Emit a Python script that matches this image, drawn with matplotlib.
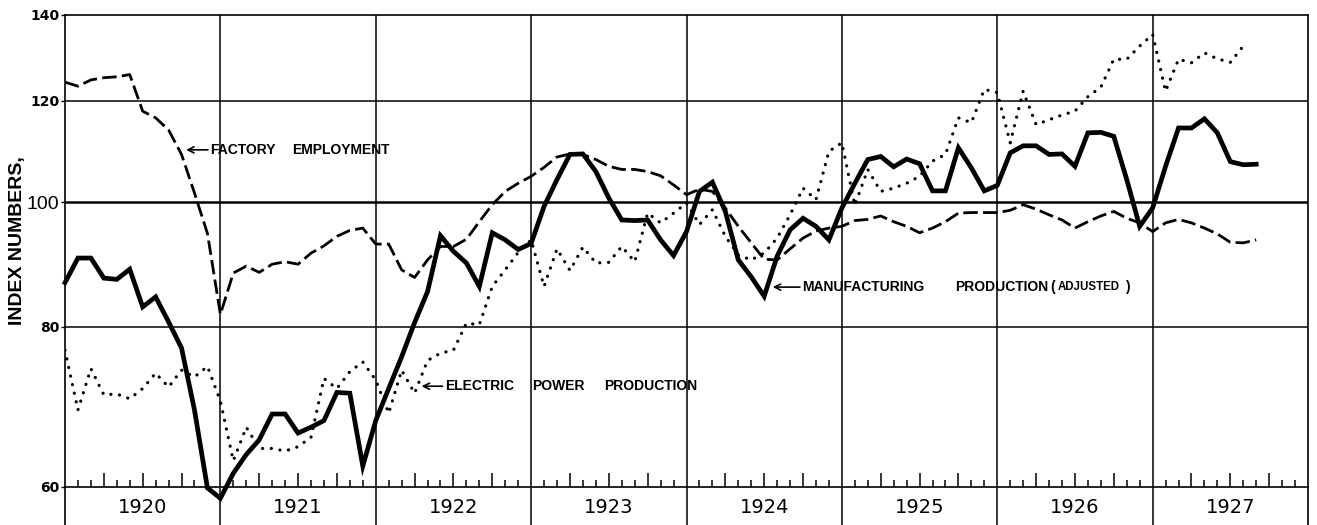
import numpy as np
import matplotlib
matplotlib.use("Agg")
import matplotlib.pyplot as plt
from matplotlib.ticker import NullLocator, FixedLocator

# ---- data (monthly index numbers, Jan 1920 onward) ----
start_year = 1920
years = [1920, 1921, 1922, 1923, 1924, 1925, 1926, 1927]
y_ticks = [60, 80, 100, 120, 140]
y_tick_labels = ["60", "80", "100", "120", "140"]

manufacturing = [
    86.6, 90.5, 90.5, 87.3, 87.1, 88.7, 82.9, 84.4, 80.7, 77.0, 68.9, 59.9,   # 1920
    58.8, 61.5, 63.6, 65.3, 68.4, 68.4, 66.1, 66.8, 67.6, 71.1, 71.0, 62.3,   # 1921
    67.6, 71.6, 75.8, 80.6, 85.2, 94.2, 91.6, 89.7, 86.0, 94.7, 93.5, 91.9,   # 1922
    92.9, 99.3, 104.2, 109.0, 109.1, 105.7, 100.8, 96.9, 96.8, 96.9, 93.5, 90.9,  # 1923
    94.9, 102.0, 103.7, 98.4, 90.2, 87.5, 84.5, 90.8, 95.2, 97.2, 95.8, 93.5,   # 1924
    99.0, 103.5, 108.0, 108.6, 106.6, 108.1, 107.2, 102.1, 102.1, 110.3, 106.4, 102.1,  # 1925
    103.1, 109.3, 110.7, 110.7, 109.0, 109.1, 106.7, 113.3, 113.4, 112.6, 104.2, 95.8,  # 1926
    99.0, 106.7, 114.3, 114.3, 116.2, 113.3, 107.6, 107.0, 107.1,            # 1927
]

factory_employment = [
    124.1, 123.2, 124.6, 125.1, 125.3, 125.8, 117.8, 116.4, 113.9, 109.0, 101.7, 94.6,  # 1920
    81.8, 88.1, 89.2, 88.2, 89.5, 89.9, 89.5, 91.3, 92.5, 94.1, 95.1, 95.5,   # 1921
    92.8, 92.8, 88.6, 87.4, 90.2, 92.4, 92.4, 93.6, 96.6, 99.6, 102.0, 103.5,  # 1922
    104.8, 106.5, 108.5, 109.1, 109.0, 108.0, 106.7, 106.1, 106.1, 105.7, 104.9, 103.2,  # 1923
    101.4, 102.4, 102.0, 99.0, 95.8, 93.0, 90.3, 90.2, 92.0, 93.8, 95.0, 95.5,  # 1924
    95.8, 96.8, 97.0, 97.6, 96.6, 95.8, 94.7, 95.5, 96.6, 98.1, 98.2, 98.2,   # 1925
    98.2, 98.6, 99.6, 98.8, 97.8, 96.9, 95.5, 96.6, 97.6, 98.4, 97.2, 96.4,   # 1926
    94.9, 96.4, 97.0, 96.4, 95.5, 94.5, 93.1, 93.0, 93.5,                     # 1927
]

electric_power = [
    76.7, 68.9, 74.2, 70.8, 70.9, 70.3, 71.6, 73.6, 71.8, 74.0, 73.1, 74.5,   # 1920
    70.0, 62.9, 66.8, 64.3, 64.3, 64.0, 64.5, 65.6, 72.9, 71.6, 73.8, 75.1,   # 1921
    72.7, 68.5, 74.0, 71.0, 75.3, 76.3, 76.7, 80.5, 80.3, 86.0, 88.6, 91.4,   # 1922
    93.5, 86.0, 92.0, 88.5, 92.3, 89.7, 89.8, 92.4, 89.9, 98.1, 96.4, 98.1,   # 1923
    99.9, 96.1, 98.7, 94.1, 91.0, 90.2, 91.3, 93.8, 97.8, 102.6, 100.5, 109.6,  # 1924
    111.3, 99.5, 106.1, 102.0, 102.6, 103.5, 104.8, 107.7, 109.0, 116.4, 115.4, 122.5,  # 1925
    121.8, 111.3, 122.1, 115.0, 116.0, 117.0, 117.8, 120.9, 123.0, 129.3, 129.3, 132.4,  # 1926
    135.2, 122.1, 129.3, 128.5, 130.8, 129.4, 128.6, 132.4,                   # 1927
]

def month_x(n):
    return start_year + np.arange(n) / 12.0

W, H = 1317, 525
fig = plt.figure(figsize=(W / 100, H / 100), dpi=100)

left_px, right_px, top_px, base_px = 65, 1308, 15, 487
ax = fig.add_axes([left_px / W, 1 - base_px / H, (right_px - left_px) / W, (base_px - top_px) / H])
strip = fig.add_axes([left_px / W, 0, (right_px - left_px) / W, (H - base_px) / H])

x0, x1 = years[0], years[-1] + 1
ax.set_yscale("log")
ax.set_xlim(x0, x1)
ax.set_ylim(y_ticks[0], y_ticks[-1])

# grid
for v in (80, 120):
    ax.axhline(v, color="black", lw=1.1, zorder=1)
ax.axhline(100, color="black", lw=1.8, zorder=1)
for yr in years[1:]:
    ax.axvline(yr, color="black", lw=1.1, zorder=1)

# series
ax.plot(month_x(len(electric_power)), electric_power, color="black", lw=2.3,
        linestyle=(0, (0.05, 2.7)), dash_capstyle="round", zorder=3)
ax.plot(month_x(len(factory_employment)), factory_employment, color="black", lw=2.0,
        linestyle=(0, (5.2, 1.9)), zorder=3)
ax.plot(month_x(len(manufacturing)), manufacturing, color="black", lw=3.4,
        solid_joinstyle="miter", zorder=4, clip_on=False)

# spines
for s in ax.spines.values():
    s.set_linewidth(1.2)

# y ticks
ax.yaxis.set_major_locator(FixedLocator(y_ticks))
ax.yaxis.set_minor_locator(NullLocator())
ax.set_yticklabels(y_tick_labels)
ax.tick_params(axis="y", direction="out", length=3, width=1, pad=1)
for lab in ax.get_yticklabels():
    if lab.get_text() == "100":
        lab.set_fontfamily("Liberation Sans")
        lab.set_fontsize(14)
    else:
        lab.set_fontfamily("DejaVu Sans")
        lab.set_fontweight("bold")
        lab.set_fontsize(10)
ax.set_ylabel("INDEX NUMBERS,", fontsize=14, fontweight="bold", family="Liberation Sans")
ax.yaxis.set_label_coords(-0.0315, 0.523)

# monthly ticks along the 60 line (taller at quarters)
quarter_ticks = [yr + q / 4 for yr in years for q in (1, 2, 3)]
month_ticks = [yr + m / 12 for yr in years for m in range(1, 12) if m % 3 != 0]
ax.xaxis.set_major_locator(FixedLocator(quarter_ticks))
ax.xaxis.set_minor_locator(FixedLocator(month_ticks))
ax.tick_params(axis="x", which="major", direction="in", length=10, width=1.1,
               labelbottom=False, top=False)
ax.tick_params(axis="x", which="minor", direction="in", length=5, width=1.1, top=False)

# year strip
strip.set_xlim(x0, x1)
strip.set_ylim(0, 1)
strip.set_xticks([])
strip.set_yticks([])
strip.spines["top"].set_visible(False)
strip.spines["bottom"].set_visible(False)
strip.spines["left"].set_linewidth(1.2)
strip.spines["right"].set_linewidth(1.2)
for yr in years[1:]:
    strip.axvline(yr, color="black", lw=1.1)
for yr in years:
    strip.text(yr + 0.5, 0.45, str(yr), ha="center", va="center", fontsize=14,
               family="DejaVu Sans")
strip.patch.set_alpha(0)

# annotations
arrow = dict(arrowstyle="->", color="black", lw=1.2, shrinkA=0, shrinkB=0,
             mutation_scale=11)
txt = dict(fontsize=10, fontweight="bold", va="center", ha="left", family="Liberation Sans")

ax.annotate("", xy=(1920.779, 109.9), xytext=(1920.92, 109.9), arrowprops=arrow)
ax.text(1920.933, 109.9, "FACTORY", **txt)
ax.text(1921.461, 109.9, "EMPLOYMENT", **txt)

ax.annotate("", xy=(1922.295, 71.9), xytext=(1922.43, 71.9), arrowprops=arrow)
ax.text(1922.446, 71.9, "ELECTRIC", **txt)
ax.text(1923.006, 71.9, "POWER", **txt)
ax.text(1923.469, 71.9, "PRODUCTION", **txt)

ax.annotate("", xy=(1924.555, 85.9), xytext=(1924.73, 85.9), arrowprops=arrow)
ax.text(1924.741, 85.9, "MANUFACTURING", **txt)
ax.text(1925.728, 85.9, "PRODUCTION", **txt)
ax.text(1926.34, 85.9, "(", **txt)
ax.text(1926.391, 85.9, "ADJUSTED", fontsize=8.3, fontweight="bold", va="center",
        ha="left", family="Liberation Sans")
ax.text(1926.822, 85.9, ")", **txt)

fig.savefig("out.png", dpi=100)
